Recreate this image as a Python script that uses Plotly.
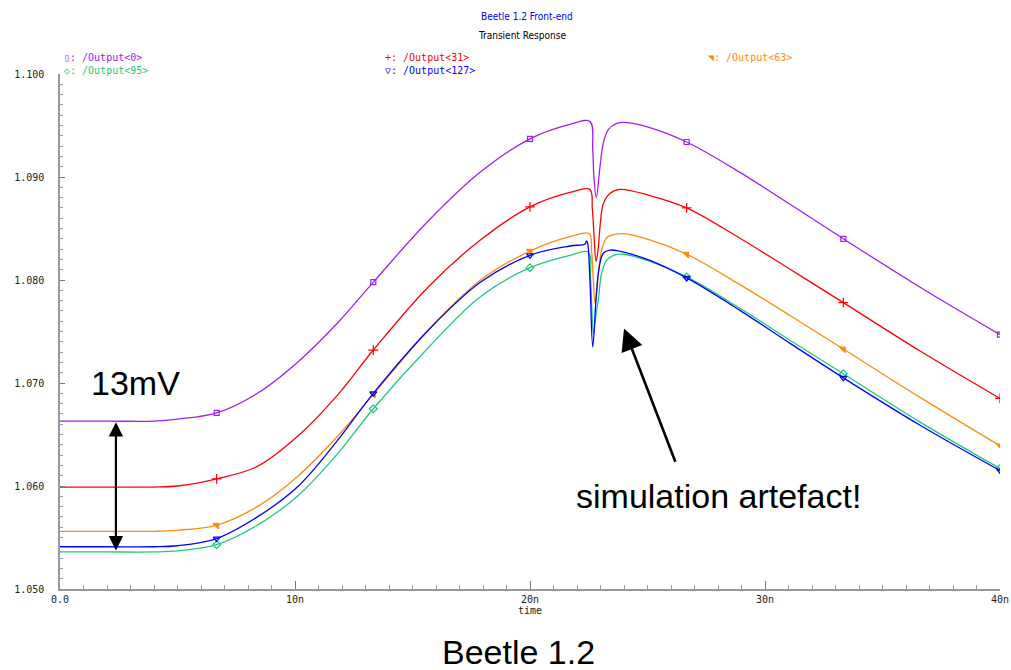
import numpy as np
import plotly.graph_objects as go

# ---------------- data (time in ns, voltage in V) ----------------
t_out0 = [0, 2, 4, 5, 6.667, 8.4, 10.1, 11.8, 13.333, 15.7, 17.9, 20, 21.7, 22.55,
          22.67, 22.72, 22.82, 22.98, 23.12, 23.33, 23.69, 24.04, 25.1, 26.667,
          28.9, 31.1, 33.333, 36.6, 40]
v_out0 = [1.0663, 1.0663, 1.0663, 1.0665, 1.0671, 1.0690, 1.0720, 1.0758, 1.0798,
          1.0858, 1.0905, 1.0937, 1.0951, 1.0954, 1.0926, 1.0900, 1.0880, 1.0910,
          1.0933, 1.0946, 1.0952, 1.0953, 1.0948, 1.0934, 1.0905, 1.0873, 1.0840,
          1.0793, 1.0747]

t_out31 = [0, 2, 4, 5, 6.667, 8.4, 10.1, 11.8, 13.333, 15.7, 17.9, 20, 21.7, 22.55,
           22.65, 22.72, 22.81, 22.9, 22.98, 23.12, 23.4, 23.83, 25.1, 26.667,
           28.9, 31.1, 33.333, 36.6, 40]
v_out31 = [1.0599, 1.0599, 1.0599, 1.0600, 1.0607, 1.0619, 1.0648, 1.0688, 1.0732,
           1.0794, 1.0839, 1.0871, 1.0885, 1.0888, 1.0870, 1.0845, 1.0818, 1.0830,
           1.0852, 1.0874, 1.0884, 1.0888, 1.0882, 1.0870, 1.0841, 1.0810,
           1.0778, 1.0731, 1.0685]

t_out63 = [0, 2, 4, 5, 6.667, 8.4, 10.1, 11.8, 13.333, 15.7, 17.9, 20, 21.7, 22.52,
           22.62, 22.7, 22.77, 22.91, 23.05, 23.26, 23.55, 23.97, 25.1, 26.667,
           28.9, 31.1, 33.333, 36.6, 40]
v_out63 = [1.0556, 1.0556, 1.0556, 1.0557, 1.0562, 1.0580, 1.0609, 1.0648, 1.0689,
           1.0752, 1.0800, 1.0828, 1.0842, 1.0845, 1.0828, 1.0798, 1.0777, 1.0807,
           1.0829, 1.0841, 1.0844, 1.0845, 1.0839, 1.0825, 1.0796, 1.0765, 1.0733,
           1.0686, 1.0639]

t_out95 = [0, 2, 4, 5, 6.667, 8.4, 10.1, 11.8, 13.333, 15.7, 17.9, 20, 21.7, 22.48,
           22.58, 22.7, 22.8, 22.91, 23.05, 23.26, 23.55, 24.0, 25.1, 26.667,
           28.9, 31.1, 33.333, 36.6, 40]
v_out95 = [1.0536, 1.0536, 1.0536, 1.0537, 1.0543, 1.0562, 1.0590, 1.0631, 1.0675,
           1.0735, 1.0784, 1.0812, 1.0824, 1.0827, 1.0800, 1.0748, 1.0765, 1.0781,
           1.0807, 1.0819, 1.0824, 1.0825, 1.0818, 1.0803, 1.0773, 1.0741, 1.0709,
           1.0662, 1.0617]

t_out127 = [0, 2, 4, 5, 6.667, 8.4, 10.1, 11.8, 13.333, 15.7, 17.9, 20, 21.7, 22.35,
            22.4, 22.45, 22.55, 22.67, 22.81, 22.95, 23.12, 23.4, 23.8, 25.1, 26.667,
            28.9, 31.1, 33.333, 36.6, 40]
v_out127 = [1.0541, 1.0541, 1.0541, 1.0542, 1.0549, 1.0570, 1.0599, 1.0644, 1.0690,
            1.0752, 1.0798, 1.0824, 1.0833, 1.0835, 1.0838, 1.0836, 1.0800, 1.0735,
            1.0781, 1.0813, 1.0826, 1.0829, 1.0828, 1.0819, 1.0802, 1.0771, 1.0738,
            1.0705, 1.0659, 1.0615]

marker_times = [6.667, 13.333, 20, 26.667, 33.333, 40]

series = [
    ("/Output<0>", t_out0, v_out0, "#A020F0", "square-open", "\u25AF", 5),
    ("/Output<31>", t_out31, v_out31, "#FF0000", "cross-thin-open", "+", 7),
    ("/Output<63>", t_out63, v_out63, "#FF8A10", "triangle-ne", "\u25E5", 6),
    ("/Output<95>", t_out95, v_out95, "#1FC97A", "diamond-open", "\u25C7", 6),
    ("/Output<127>", t_out127, v_out127, "#0000FF", "triangle-down-open", "\u25BD", 6),
]

y_ticks = [1.05, 1.06, 1.07, 1.08, 1.09, 1.10]
y_ticktext = ["1.050", "1.060", "1.070", "1.080", "1.090", "1.100"]
x_ticks = [0, 10, 20, 30, 40]
x_ticktext = ["0.0", "10n", "20n", "30n", "40n"]

SMALL = "DejaVu Sans Mono, Liberation Mono, monospace"
BIG = "Liberation Sans, Arial, sans-serif"
TITLE = "Liberation Sans Narrow, DejaVu Sans Condensed, sans-serif"

fig = go.Figure()
for name, t, v, col, sym, glyph, msize in series:
    t = np.array(t); v = np.array(v)
    fig.add_trace(go.Scatter(x=t, y=v, mode="lines", name=name,
                             line=dict(color=col, width=1.3, shape="spline", smoothing=1.0),
                             hoverinfo="skip"))
    sel = np.isin(np.round(t, 3), np.round(marker_times, 3))
    fig.add_trace(go.Scatter(x=t[sel], y=v[sel], mode="markers", showlegend=False,
                             marker=dict(symbol=sym, size=msize, color=col,
                                         line=dict(color=col, width=1.2))))

# plot area geometry: pixels 60..1000 horizontally, 74..589 vertically
def py(pix):
    return (589 - pix) / 515.0

def px(pix):
    return (pix - 60) / 940.0

def txt(text, x, y, size, color, family, xanchor="center"):
    return dict(text=text, x=px(x), y=py(y), xref="paper", yref="paper",
                xanchor=xanchor, yanchor="middle", showarrow=False,
                font=dict(family=family, size=size, color=color))

annots = [
    txt("Beetle 1.2 Front-end", 527, 16, 10, "#0000FF", TITLE),
    txt("Transient Response", 522, 36, 10, "#000000", TITLE),
]
leg_pos = [(62, 57), (383, 57), (706, 57), (62, 70), (383, 70)]
for (name, t, v, col, sym, glyph, msize), (lx, ly) in zip(series, leg_pos):
    annots.append(txt(f"{glyph}: {name}", lx, ly, 10, col, SMALL, xanchor="left"))

annots.append(txt("13mV", 135, 383, 34, "black", BIG))
annots.append(txt("simulation artefact!", 718, 496, 34, "black", BIG))
annots.append(txt("Beetle 1.2", 518, 652, 34, "black", BIG))
# double arrow for 13 mV
annots.append(dict(x=2.38, y=1.0662, ax=2.38, ay=1.0536, xref="x", yref="y", axref="x", ayref="y",
                   text="", showarrow=True, arrowhead=2, arrowside="end+start", arrowsize=1.3,
                   arrowwidth=2.2, arrowcolor="black"))
# artefact arrow
annots.append(dict(x=24.0, y=1.0753, ax=26.21, ay=1.0622, xref="x", yref="y", axref="x", ayref="y",
                   text="", showarrow=True, arrowhead=2, arrowsize=1.7, arrowwidth=2.6,
                   arrowcolor="black"))

fig.update_layout(
    width=1011, height=670, autosize=False,
    margin=dict(l=60, r=11, t=74, b=81),
    plot_bgcolor="white", paper_bgcolor="white",
    showlegend=False,
    annotations=annots,
    xaxis=dict(range=[0, 40], automargin=False, showline=True, linecolor="#999999", linewidth=1.5,
               mirror=False, showgrid=False, zeroline=False, ticks="inside", ticklen=8,
               tickcolor="#777777", tickvals=x_ticks, ticktext=x_ticktext,
               tickfont=dict(family=SMALL, size=10, color="#222222"),
               minor=dict(dtick=1, ticks="inside", ticklen=4, tickcolor="#999999"),
               title=dict(text="time", font=dict(family=SMALL, size=10, color="#222222"), standoff=2)),
    yaxis=dict(range=[1.05, 1.10], automargin=False, showline=True, linecolor="#999999", linewidth=1.5,
               showgrid=False, zeroline=False, ticks="inside", ticklen=5, tickcolor="#777777",
               tickvals=y_ticks, ticktext=y_ticktext, ticklabelstandoff=12,
               tickfont=dict(family=SMALL, size=10, color="#222222"),
               minor=dict(dtick=0.001, ticks="inside", ticklen=3, tickcolor="#999999")),
)

fig.write_html("out.html", config={"responsive": False},
               post_script="document.body.style.margin='0px';document.body.style.overflow='hidden';")
